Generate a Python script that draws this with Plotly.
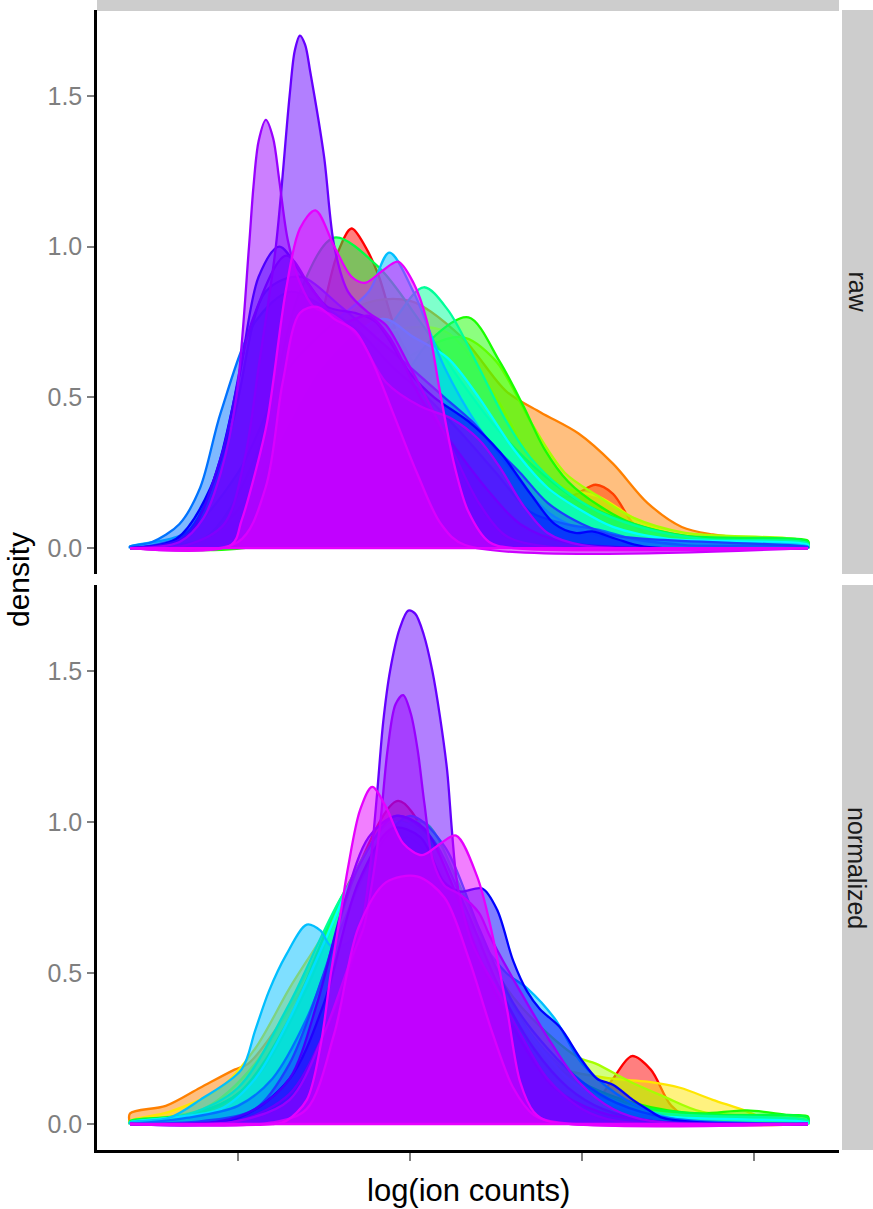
import plotly.graph_objects as go

W, H = 873, 1209
X_MIN, X_MAX = 1.86, 21.57

# sample colours (drawing order: first drawn at the bottom)
SAMPLE_COLORS = ["#FF0000", "#FF8000", "#FFE600", "#A6FF00", "#1AFF00", "#00FF40",
                 "#00FF99", "#00FFFF", "#00BFFF", "#0073FF", "#1A40FF", "#0000FF",
                 "#4000FF", "#6600FF", "#9900FF", "#CC00FF", "#E600FF"]
X_TICKS = [5, 10, 15, 20]
Y_TICKS = [0.0, 0.5, 1.0, 1.5]
Y_TICK_TEXT = ["0.0", "0.5", "1.0", "1.5"]
PANELS = ["raw", "normalized"]

# ---- raw panel densities: (log ion count, density) knots ----
raw_red = [(1.86, 0), (4.5, 0.02), (5.8, 0.15), (6.8, 0.45), (7.4, 0.75), (7.9, 0.98), (8.3, 1.06),
           (8.7, 1.0), (9.1, 0.9), (9.6, 0.72), (10.3, 0.58), (11.2, 0.45), (12.2, 0.33), (13.4, 0.22),
           (14.6, 0.17), (15.4, 0.21), (15.9, 0.18), (16.5, 0.08), (17.3, 0.02), (18.5, 0.004), (21.57, 0)]
raw_orange = [(1.86, 0), (4.0, 0.03), (5.5, 0.2), (7.0, 0.55), (8.5, 0.8), (10.0, 0.82), (11.5, 0.7),
              (12.8, 0.52), (13.8, 0.45), (14.9, 0.38), (15.9, 0.28), (16.9, 0.15), (17.9, 0.07),
              (18.8, 0.045), (20.0, 0.03), (21.57, 0.02)]
raw_yellow = [(1.86, 0), (5.0, 0.05), (7.0, 0.4), (9.0, 0.7), (11.0, 0.72), (12.5, 0.5), (13.5, 0.3),
              (14.5, 0.2), (15.5, 0.17), (16.5, 0.1), (17.5, 0.05), (19.0, 0.03), (21.57, 0.02)]
raw_chartreuse = [(1.86, 0), (5.5, 0.05), (7.5, 0.35), (9.5, 0.6), (11.5, 0.7), (12.5, 0.62), (13.5, 0.42),
                  (14.5, 0.25), (15.5, 0.17), (16.5, 0.1), (18.0, 0.05), (21.57, 0.02)]
raw_green = [(1.86, 0), (6.0, 0.02), (8.0, 0.2), (9.5, 0.5), (10.6, 0.69), (11.7, 0.765), (12.6, 0.62),
             (13.3, 0.47), (13.9, 0.33), (14.6, 0.22), (15.5, 0.14), (16.5, 0.08), (18.0, 0.04),
             (20.0, 0.026), (21.57, 0.024)]
raw_green2 = [(1.86, 0), (4.0, 0.03), (5.5, 0.3), (6.8, 0.85), (7.8, 1.03), (9.1, 0.93), (10.3, 0.75),
              (11.5, 0.55), (12.5, 0.4), (13.8, 0.25), (15.0, 0.15), (16.5, 0.08), (18.0, 0.04), (21.57, 0.02)]
raw_spring = [(1.86, 0), (5.0, 0.04), (7.0, 0.35), (8.5, 0.6), (9.5, 0.75), (10.4, 0.865), (11.1, 0.79),
              (12.0, 0.6), (12.8, 0.42), (13.5, 0.3), (14.4, 0.2), (15.5, 0.12), (17.0, 0.06),
              (18.5, 0.03), (21.57, 0.015)]
raw_cyan = [(1.86, 0), (4.5, 0.05), (6.0, 0.3), (7.5, 0.6), (9.2, 0.76), (10.1, 0.7), (11.1, 0.63),
            (12.0, 0.5), (13.0, 0.33), (14.0, 0.2), (14.9, 0.13), (15.9, 0.07), (17.5, 0.03), (21.57, 0.01)]
raw_skyblue = [(1.86, 0.005), (3.5, 0.05), (5.0, 0.25), (6.5, 0.6), (7.8, 0.75), (8.8, 0.85), (9.4, 0.98),
               (10.1, 0.85), (11.0, 0.6), (12.0, 0.4), (13.0, 0.25), (14.0, 0.12), (15.0, 0.06),
               (16.0, 0.03), (21.57, 0.005)]
raw_azure = [(1.86, 0.005), (2.5, 0.02), (3.3, 0.08), (3.9, 0.2), (4.5, 0.45), (5.5, 0.75), (6.5, 0.85),
             (7.5, 0.8), (8.5, 0.72), (9.5, 0.6), (10.5, 0.5), (11.5, 0.38), (12.5, 0.25), (13.5, 0.12),
             (14.5, 0.08), (15.5, 0.06), (16.5, 0.03), (18.0, 0.01), (21.57, 0.003)]
raw_royal = [(1.86, 0), (3.5, 0.05), (4.8, 0.4), (5.8, 0.85), (6.8, 0.9), (8.0, 0.8), (9.0, 0.7),
             (10.0, 0.6), (11.0, 0.5), (11.8, 0.42), (12.5, 0.33), (13.2, 0.25), (14.0, 0.15),
             (15.0, 0.08), (16.0, 0.04), (21.57, 0.003)]
raw_blue = [(1.86, 0), (3.2, 0.03), (4.2, 0.2), (5.0, 0.55), (5.6, 0.9), (6.2, 1.0), (6.9, 0.9),
            (7.6, 0.8), (8.4, 0.78), (9.0, 0.75), (10.0, 0.58), (10.7, 0.5), (11.7, 0.42), (12.6, 0.32),
            (13.5, 0.18), (14.2, 0.08), (14.8, 0.05), (15.3, 0.055), (16.0, 0.03), (16.8, 0.005), (21.57, 0)]
raw_indigo = [(1.86, 0), (3.5, 0.04), (4.5, 0.3), (5.4, 0.75), (6.4, 0.97), (7.2, 0.85), (8.0, 0.75),
              (8.8, 0.77), (9.4, 0.7), (10.3, 0.5), (11.2, 0.35), (12.2, 0.2), (13.2, 0.08), (14.5, 0.02),
              (21.57, 0)]
raw_violet = [(1.86, 0), (3.5, 0.01), (4.6, 0.08), (5.2, 0.3), (5.6, 0.6), (6.1, 1.0), (6.5, 1.5),
              (6.65, 1.65), (6.8, 1.70), (6.95, 1.67), (7.1, 1.58), (7.5, 1.3), (7.8, 1.0), (8.2, 0.85),
              (8.8, 0.78), (9.3, 0.74), (10.0, 0.6), (11.0, 0.38), (12.0, 0.15), (12.8, 0.04),
              (14.0, 0.005), (21.57, 0)]
raw_purple = [(1.86, 0), (3.3, 0.02), (4.0, 0.1), (4.5, 0.25), (4.95, 0.5), (5.32, 1.0), (5.45, 1.2),
              (5.6, 1.35), (5.81, 1.42), (6.02, 1.36), (6.2, 1.22), (6.45, 1.02), (6.8, 0.88), (7.2, 0.8),
              (7.8, 0.77), (8.5, 0.7), (9.3, 0.55), (10.3, 0.47), (11.2, 0.43), (12.0, 0.36),
              (12.6, 0.27), (13.3, 0.14), (14.0, 0.05), (15.0, 0.01), (21.57, 0)]
raw_plateau = [(1.86, 0), (5.0, 0.02), (5.8, 0.2), (6.3, 0.55), (6.8, 0.78), (7.3, 0.8), (7.8, 0.76),
               (8.4, 0.72), (8.9, 0.62), (9.5, 0.45), (10.2, 0.25), (10.9, 0.08), (11.6, 0.01), (21.57, 0)]
raw_magenta = [(1.86, 0), (4.8, 0.01), (5.1, 0.09), (5.5, 0.25), (5.85, 0.42), (6.4, 0.86), (6.8, 1.06),
               (7.25, 1.12), (7.8, 1.0), (8.3, 0.9), (8.7, 0.88), (9.2, 0.92), (9.65, 0.95), (10.1, 0.88),
               (10.5, 0.75), (10.9, 0.5), (11.3, 0.27), (11.7, 0.12), (12.3, 0.02), (13.0, 0.0), (21.57, 0)]

# ---- normalized panel densities ----
norm_red = [(1.86, 0), (5.0, 0.02), (6.5, 0.15), (7.5, 0.45), (8.5, 0.85), (9.65, 1.07), (10.5, 0.95),
            (11.5, 0.65), (12.5, 0.35), (13.5, 0.18), (14.5, 0.1), (15.4, 0.08), (15.9, 0.15),
            (16.45, 0.225), (17.0, 0.18), (17.6, 0.06), (18.3, 0.01), (21.57, 0)]
norm_orange = [(1.86, 0.035), (2.9, 0.06), (3.9, 0.12), (4.9, 0.18), (5.3, 0.2), (6.2, 0.33), (7.2, 0.52),
               (8.2, 0.78), (9.3, 0.97), (10.3, 0.9), (11.3, 0.65), (12.3, 0.4), (13.3, 0.22),
               (14.3, 0.12), (15.3, 0.07), (16.5, 0.04), (18.0, 0.02), (21.57, 0.005)]
norm_yellow = [(1.86, 0.01), (3.0, 0.04), (4.5, 0.12), (5.5, 0.25), (6.5, 0.45), (7.6, 0.65), (8.5, 0.85),
               (9.5, 0.95), (10.5, 0.85), (11.5, 0.6), (12.5, 0.38), (13.5, 0.25), (14.5, 0.18),
               (15.9, 0.15), (16.9, 0.14), (17.85, 0.12), (18.8, 0.08), (19.6, 0.05), (20.3, 0.02),
               (21.57, 0.005)]
norm_chartreuse = [(1.86, 0.005), (4.0, 0.05), (5.5, 0.2), (7.0, 0.5), (8.5, 0.85), (9.7, 1.0), (10.8, 0.85),
                   (12.0, 0.6), (13.0, 0.42), (14.0, 0.3), (14.9, 0.22), (15.4, 0.2), (16.4, 0.14),
                   (17.4, 0.09), (18.5, 0.04), (21.57, 0.01)]
norm_green = [(1.86, 0.005), (4.0, 0.04), (5.5, 0.15), (7.0, 0.45), (8.5, 0.85), (9.8, 1.0), (11.0, 0.8),
              (12.2, 0.5), (13.3, 0.3), (14.5, 0.17), (15.5, 0.11), (16.5, 0.07), (17.5, 0.045),
              (18.5, 0.035), (19.8, 0.045), (21.0, 0.03), (21.57, 0.025)]
norm_green2 = [(1.86, 0.01), (3.5, 0.03), (5.0, 0.1), (6.5, 0.35), (8.0, 0.75), (9.5, 1.0), (10.5, 0.95),
               (11.5, 0.7), (12.5, 0.45), (13.5, 0.28), (14.5, 0.16), (15.5, 0.1), (17.0, 0.05),
               (19.0, 0.03), (21.57, 0.02)]
norm_spring = [(1.86, 0.005), (3.5, 0.03), (5.0, 0.12), (6.5, 0.4), (8.0, 0.75), (9.3, 0.95), (10.4, 1.0),
               (11.4, 0.8), (12.5, 0.5), (13.5, 0.3), (14.5, 0.18), (15.5, 0.1), (17.0, 0.04), (21.57, 0.01)]
norm_cyan = [(1.86, 0.005), (3.0, 0.02), (4.5, 0.05), (5.5, 0.15), (6.5, 0.35), (7.5, 0.6), (8.5, 0.85),
             (9.6, 1.0), (10.6, 0.92), (11.6, 0.7), (12.6, 0.45), (13.6, 0.28), (14.6, 0.15), (15.6, 0.08),
             (17.0, 0.03), (21.57, 0.005)]
norm_skyblue = [(1.86, 0.005), (3.0, 0.02), (3.9, 0.08), (5.1, 0.18), (5.5, 0.31), (5.9, 0.44), (6.4, 0.56),
                (7.0, 0.66), (7.4, 0.64), (7.7, 0.59), (8.2, 0.6), (9.0, 0.8), (9.9, 0.95), (10.8, 0.85),
                (11.8, 0.65), (12.8, 0.5), (13.4, 0.45), (14.2, 0.35), (15.0, 0.2), (16.0, 0.1),
                (17.0, 0.04), (18.0, 0.01), (21.57, 0)]
norm_azure = [(1.86, 0), (3.5, 0.02), (5.0, 0.06), (6.0, 0.15), (7.0, 0.35), (8.0, 0.65), (9.0, 0.9),
              (10.0, 1.02), (11.0, 0.92), (12.0, 0.65), (13.0, 0.4), (14.0, 0.25), (15.0, 0.14),
              (16.0, 0.07), (17.5, 0.02), (21.57, 0)]
norm_royal = [(1.86, 0), (4.0, 0.01), (5.5, 0.05), (6.5, 0.2), (7.5, 0.5), (8.5, 0.85), (9.6, 1.02),
              (10.6, 0.95), (11.6, 0.72), (12.6, 0.45), (13.6, 0.25), (14.6, 0.12), (15.6, 0.05),
              (17.0, 0.01), (21.57, 0)]
norm_blue = [(1.86, 0), (5.0, 0.02), (6.5, 0.15), (7.5, 0.4), (8.5, 0.8), (9.5, 0.98), (10.3, 0.95),
             (11.0, 0.8), (11.45, 0.77), (12.1, 0.78), (12.53, 0.71), (13.0, 0.54), (13.4, 0.44),
             (13.78, 0.38), (14.36, 0.32), (14.94, 0.22), (15.44, 0.15), (15.9, 0.13), (16.48, 0.08),
             (16.89, 0.05), (17.35, 0.02), (18.5, 0.005), (21.57, 0)]
norm_indigo = [(1.86, 0), (4.5, 0.01), (5.5, 0.05), (6.5, 0.15), (7.3, 0.4), (8.0, 0.7), (8.8, 0.95),
               (9.6, 1.02), (10.4, 0.98), (11.2, 0.8), (12.2, 0.5), (13.2, 0.28), (14.2, 0.12),
               (15.5, 0.04), (17.0, 0.01), (21.57, 0)]
norm_violet = [(1.86, 0), (5.0, 0.01), (6.5, 0.1), (7.5, 0.3), (8.2, 0.5), (8.63, 0.68), (8.84, 0.85),
               (9.04, 1.09), (9.22, 1.33), (9.42, 1.5), (9.7, 1.64), (9.95, 1.70), (10.15, 1.69),
               (10.4, 1.62), (10.65, 1.5), (10.87, 1.35), (11.08, 1.17), (11.22, 0.97), (11.37, 0.8),
               (11.8, 0.6), (12.5, 0.45), (13.2, 0.3), (14.0, 0.15), (15.0, 0.05), (16.0, 0.01), (21.57, 0)]
norm_purple = [(1.86, 0), (5.0, 0.01), (6.5, 0.08), (7.5, 0.3), (8.3, 0.55), (8.65, 0.65), (8.9, 0.8),
               (9.13, 0.99), (9.35, 1.24), (9.58, 1.39), (9.8, 1.42), (10.02, 1.36), (10.22, 1.24),
               (10.42, 1.06), (10.67, 0.87), (11.0, 0.79), (11.45, 0.76), (12.0, 0.7), (12.33, 0.62),
               (13.2, 0.44), (14.15, 0.26), (14.9, 0.14), (15.9, 0.05), (17.0, 0.01), (21.57, 0)]
norm_plateau = [(1.86, 0), (6.0, 0.005), (7.0, 0.05), (7.8, 0.3), (8.5, 0.65), (9.3, 0.8), (10.2, 0.82),
                (11.0, 0.75), (11.7, 0.55), (12.4, 0.3), (13.0, 0.12), (13.6, 0.03), (14.3, 0.005), (21.57, 0)]
norm_magenta = [(1.86, 0), (6.0, 0.0), (6.4, 0.01), (7.0, 0.08), (7.4, 0.26), (7.7, 0.5), (8.0, 0.71),
                (8.2, 0.85), (8.55, 1.04), (8.9, 1.116), (9.3, 1.05), (9.8, 0.93), (10.35, 0.89),
                (10.9, 0.93), (11.34, 0.955), (11.95, 0.82), (12.33, 0.66), (12.82, 0.38), (13.2, 0.14),
                (13.6, 0.04), (14.0, 0.01), (21.57, 0)]

RAW = [raw_red, raw_orange, raw_yellow, raw_chartreuse, raw_green, raw_green2, raw_spring, raw_cyan,
       raw_skyblue, raw_azure, raw_royal, raw_blue, raw_indigo, raw_violet, raw_purple, raw_plateau,
       raw_magenta]
NORM = [norm_red, norm_orange, norm_yellow, norm_chartreuse, norm_green, norm_green2, norm_spring,
        norm_cyan, norm_skyblue, norm_azure, norm_royal, norm_blue, norm_indigo, norm_violet,
        norm_purple, norm_plateau, norm_magenta]

# ---------------- layout geometry (pixels) ----------------
PX_LEFT, PX_RIGHT = 97, 839
TOP_PANEL = (10, 574)
BOT_PANEL = (585, 1150)
X_RANGE = [0.901, 22.471]
Y_RANGE = [-0.0861, 1.7848]


def px_x(p):
    return p / W


def px_y(p):
    return 1 - p / H


def rgba(hexc, a):
    h = hexc.lstrip("#")
    r, g, b = int(h[0:2], 16), int(h[2:4], 16), int(h[4:6], 16)
    return f"rgba({r},{g},{b},{a})"


fig = go.Figure()


def add_density(knots, color, xa, ya):
    xs = [k[0] for k in knots]
    ys = [k[1] for k in knots]
    if ys[0] > 0:
        xs = [xs[0]] + xs
        ys = [0] + ys
    if ys[-1] > 0:
        xs = xs + [xs[-1]]
        ys = ys + [0]
    fig.add_trace(go.Scatter(
        x=xs, y=ys, mode="lines", fill="tozeroy",
        fillcolor=rgba(color, 0.5),
        line=dict(color=color, width=2.3, shape="spline", smoothing=0.9),
        xaxis=xa, yaxis=ya, showlegend=False, hoverinfo="skip"))


for panel_data, xa, ya in [(RAW, "x2", "y2"), (NORM, "x", "y")]:
    for knots, col in zip(panel_data, SAMPLE_COLORS):
        add_density(knots, col, xa, ya)
    # outline along the baseline from the last-drawn group
    fig.add_trace(go.Scatter(x=[X_MIN, X_MAX], y=[0, 0], mode="lines",
                             line=dict(color=SAMPLE_COLORS[-1], width=2.3),
                             xaxis=xa, yaxis=ya, showlegend=False, hoverinfo="skip"))

FONT = "Liberation Sans, Arial, Helvetica, sans-serif"
GREY = "#7F7F7F"

yaxis_common = dict(range=Y_RANGE, tickvals=Y_TICKS, ticktext=Y_TICK_TEXT,
                    ticks="outside", ticklen=7, tickwidth=1.5, tickcolor=GREY,
                    tickfont=dict(family=FONT, size=25, color=GREY),
                    showline=True, linecolor="black", linewidth=2.5,
                    showgrid=False, zeroline=False)

fig.update_layout(
    width=W, height=H,
    margin=dict(l=0, r=0, t=0, b=0),
    paper_bgcolor="white", plot_bgcolor="white",
    xaxis=dict(domain=[px_x(PX_LEFT), px_x(PX_RIGHT)], range=X_RANGE, anchor="y",
               tickvals=X_TICKS, showticklabels=False, ticks="outside", ticklen=8,
               tickwidth=1.5, tickcolor=GREY, showline=True, linecolor="black",
               linewidth=2.5, showgrid=False, zeroline=False),
    xaxis2=dict(domain=[px_x(PX_LEFT), px_x(PX_RIGHT)], range=X_RANGE, anchor="y2",
                matches="x", showticklabels=False, ticks="", showline=False,
                showgrid=False, zeroline=False),
    yaxis=dict(domain=[px_y(BOT_PANEL[1]), px_y(BOT_PANEL[0])], anchor="x", **yaxis_common),
    yaxis2=dict(domain=[px_y(TOP_PANEL[1]), px_y(TOP_PANEL[0])], anchor="x2", **yaxis_common),
)

STRIP = "#CDCDCD"
shapes = [
    # top strip (cut off at image edge)
    dict(type="rect", xref="paper", yref="paper", x0=px_x(PX_LEFT), x1=px_x(PX_RIGHT),
         y0=px_y(11), y1=1.0, fillcolor=STRIP, line_width=0, layer="below"),
]
annotations = []
for (top, bot), label in zip([TOP_PANEL, BOT_PANEL], PANELS):
    shapes.append(dict(type="rect", xref="paper", yref="paper", x0=px_x(842), x1=1.0,
                       y0=px_y(bot), y1=px_y(top), fillcolor=STRIP, line_width=0, layer="below"))
    annotations.append(dict(text=label, xref="paper", yref="paper", x=px_x(857.5),
                            y=px_y((top + bot) / 2), showarrow=False, textangle=90,
                            font=dict(family=FONT, size=25, color="#1A1A1A"),
                            xanchor="center", yanchor="middle"))

annotations.append(dict(text="density", xref="paper", yref="paper", x=px_x(18), y=px_y(580),
                        showarrow=False, textangle=-90, xanchor="center", yanchor="middle",
                        font=dict(family=FONT, size=30, color="black")))
annotations.append(dict(text="log(ion counts)", xref="paper", yref="paper",
                        x=px_x((PX_LEFT + PX_RIGHT) / 2), y=px_y(1190), showarrow=False,
                        xanchor="center", yanchor="middle",
                        font=dict(family=FONT, size=31, color="black")))

fig.update_layout(shapes=shapes, annotations=annotations)
fig.write_html("out.html", config={"displayModeBar": False},
               post_script="document.body.style.margin='0px';")
